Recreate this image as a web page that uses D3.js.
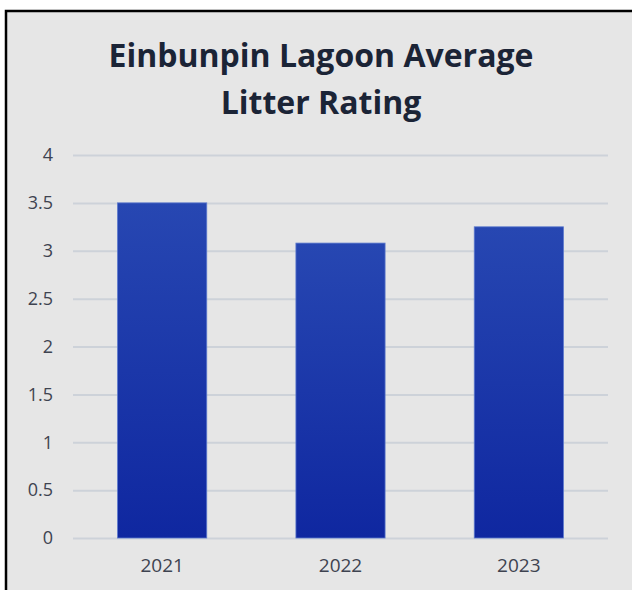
<!DOCTYPE html>
<html>
<head>
<meta charset="utf-8">
<script src="https://cdn.jsdelivr.net/npm/d3@7"></script>
<style>
  body { margin: 0; background: #fff; }
</style>
</head>
<body>
<div id="chart"></div>
<script>
var years = ["2021", "2022", "2023"];
var ratings = [3.5, 3.08, 3.25];
var yTicks = [0, 0.5, 1, 1.5, 2, 2.5, 3, 3.5, 4];
var titleLines = ["Einbunpin Lagoon Average", "Litter Rating"];

var width = 632,
    height = 590;

var svg = d3.select("#chart")
    .append("svg")
    .attr("width", width)
    .attr("height", height);

var defs = svg.append("defs");
var grad = defs.append("linearGradient")
    .attr("id", "barGrad")
    .attr("x1", 0).attr("y1", 0)
    .attr("x2", 0).attr("y2", 1);
grad.append("stop").attr("offset", "0%").attr("stop-color", "#2747b2");
grad.append("stop").attr("offset", "100%").attr("stop-color", "#0f27a0");

// panel + frame
svg.append("rect")
    .attr("x", 6).attr("y", 11)
    .attr("width", width).attr("height", height)
    .attr("fill", "#e6e6e6")
    .attr("stroke", "#000")
    .attr("stroke-width", 2.5);

svg.append("text")
    .attr("x", 321)
    .attr("y", 67)
    .attr("text-anchor", "middle")
    .attr("font-family", "Open Sans, sans-serif")
    .attr("font-weight", "bold")
    .attr("font-size", 32)
    .attr("fill", "#1b2436")
    .selectAll("tspan")
    .data(titleLines)
    .enter().append("tspan")
    .attr("x", 321)
    .attr("dy", function (d, i) { return i === 0 ? 0 : 46.5; })
    .text(function (d) { return d; });

var x = d3.scaleBand()
    .domain(years)
    .range([73, 608])
    .paddingInner(0.5)
    .paddingOuter(0.25);

var y = d3.scaleLinear()
    .domain([0, 4])
    .range([538, 155]);

var yAxis = svg.append("g")
    .attr("transform", "translate(73,0)")
    .call(d3.axisLeft(y).tickValues(yTicks).tickSize(-535).tickPadding(20)
        .tickFormat(d3.format("")));
yAxis.select(".domain").remove();
yAxis.selectAll(".tick line").attr("stroke", "#cdd2d9").attr("stroke-width", 2);
yAxis.selectAll(".tick text")
    .attr("font-family", "Open Sans, sans-serif")
    .attr("font-size", 18)
    .attr("fill", "#3e4350");

svg.selectAll(".bar")
    .data(ratings)
    .enter().append("rect")
    .attr("class", "bar")
    .attr("x", function (d, i) { return x(years[i]); })
    .attr("y", function (d) { return y(d); })
    .attr("width", x.bandwidth())
    .attr("height", function (d) { return y(0) - y(d); })
    .attr("fill", "url(#barGrad)")
    .attr("stroke", "#5b78cc")
    .attr("stroke-width", 0.8);

var xAxis = svg.append("g")
    .attr("transform", "translate(0,538)")
    .call(d3.axisBottom(x).tickSize(0).tickPadding(21));
xAxis.select(".domain").remove();
xAxis.selectAll(".tick text")
    .attr("font-family", "Open Sans, sans-serif")
    .attr("font-size", 19)
    .attr("fill", "#3e4350");
</script>
</body>
</html>
